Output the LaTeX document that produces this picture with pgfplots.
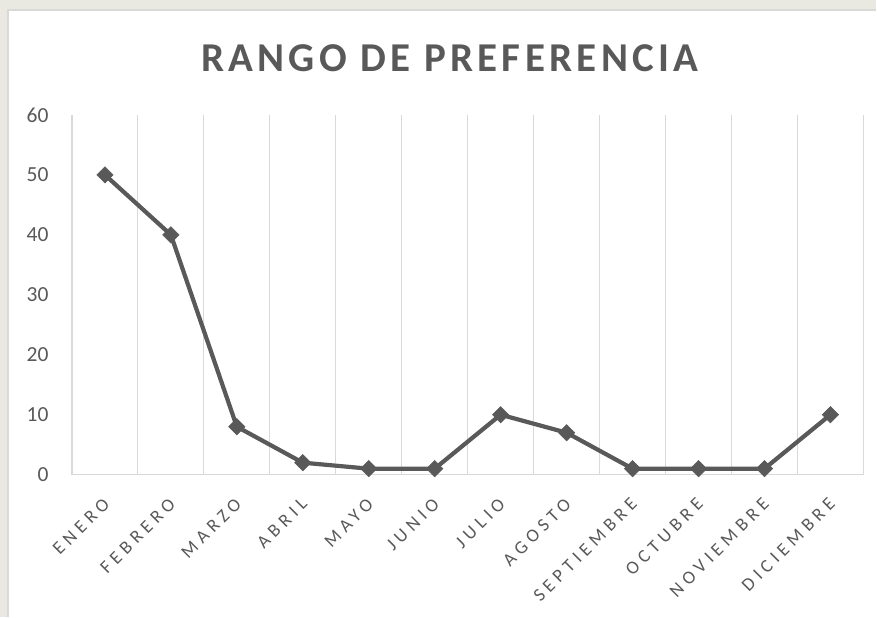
\documentclass[border=0pt]{standalone}
\usepackage{pgfplots}
\pgfplotsset{compat=1.18}
\usepackage{fontspec}
\setmainfont{Carlito}
\definecolor{txt}{HTML}{595959}
\definecolor{grd}{HTML}{D9D9D9}
\definecolor{wm}{HTML}{E9E9E2}
\begin{document}
\begin{tikzpicture}
\fill[wm] (0pt,0pt) rectangle (877pt,617pt);
\fill[white] (8pt,0pt) rectangle (877pt,607pt);
\draw[grd, line width=1.2pt] (8pt,0pt) -- (8pt,607pt) -- (877pt,607pt);
\node[anchor=base, text=txt, font=\fontsize{41}{48}\selectfont\bfseries\addfontfeature{LetterSpace=10.5}] at (450pt,545pt) {RANGO DE PREFERENCIA};
\begin{axis}[
  at={(72pt,142pt)}, anchor=south west,
  scale only axis, width=792pt, height=360pt,
  xmin=-0.5, xmax=11.5, ymin=0, ymax=60,
  xtick={0,...,11},
  xticklabels={ENERO,FEBRERO,MARZO,ABRIL,MAYO,JUNIO,JULIO,AGOSTO,SEPTIEMBRE,OCTUBRE,NOVIEMBRE,DICIEMBRE},
  minor xtick={-0.5,0.5,...,11.5},
  xminorgrids, minor grid style={grd, line width=1.1pt},
  ytick={0,10,...,60},
  major tick length=0pt, minor tick length=0pt,
  axis x line*=bottom, axis y line*=left,
  x axis line style={grd, line width=1.6pt, -},
  y axis line style={draw=none},
  /pgf/number format/assume math mode=true,
  yticklabel style={text=txt, font=\fontsize{21.5}{25}\selectfont, xshift=-20pt},
  xticklabel style={text=txt, font=\fontsize{18.5}{21}\selectfont\addfontfeature{LetterSpace=26}, inner sep=0pt, xshift=-3pt, yshift=-22pt, rotate=45, anchor=north east},
  clip=false,
]
\addplot[color=txt, line width=4.2pt, mark=square*, mark size=5.8pt,
  mark options={rotate=45, line width=0.5pt, fill=txt, draw=txt}]
  coordinates {(0,50) (1,40) (2,8) (3,2) (4,1) (5,1) (6,10) (7,7) (8,1) (9,1) (10,1) (11,10)};
\end{axis}
\end{tikzpicture}
\end{document}
